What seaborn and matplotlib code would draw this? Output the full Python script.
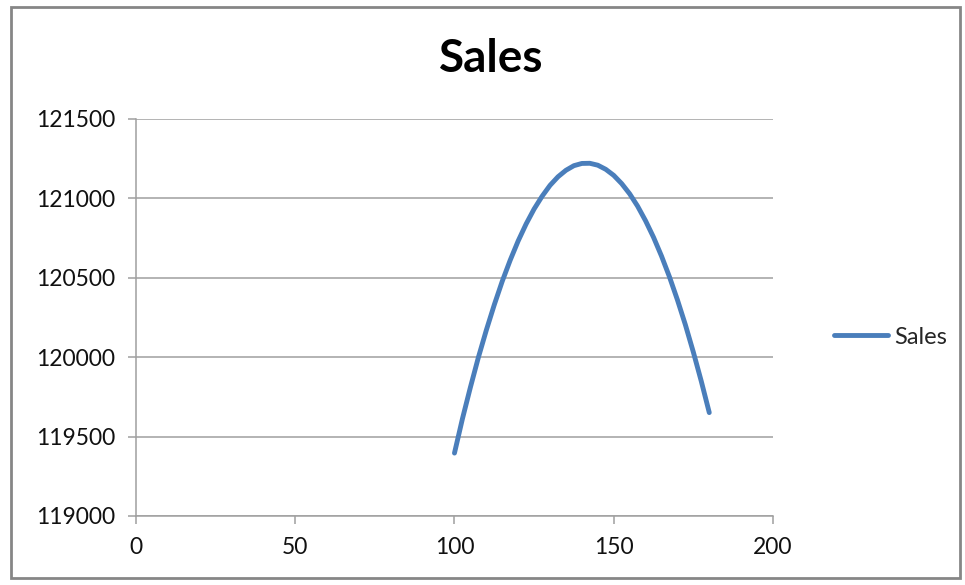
import matplotlib
matplotlib.use("Agg")
import matplotlib.pyplot as plt
import seaborn as sns
import pandas as pd
from matplotlib.patches import Rectangle

# Price points and the resulting sales
price = [100, 102.5, 105, 107.5, 110, 112.5, 115, 117.5, 120, 122.5, 125, 127.5,
         130, 132.5, 135, 137.5, 140, 142.5, 145, 147.5, 150, 152.5, 155, 157.5,
         160, 162.5, 165, 167.5, 170, 172.5, 175, 177.5, 180]
sales = [119396, 119612, 119810, 119998, 120170, 120330, 120478, 120611, 120732,
         120839, 120933, 121013, 121082, 121136, 121177, 121206, 121220, 121221,
         121209, 121183, 121145, 121093, 121029, 120951, 120859, 120755, 120637,
         120506, 120361, 120204, 120032, 119848, 119651]
x_ticks = [0, 50, 100, 150, 200]
y_ticks = [119000, 119500, 120000, 120500, 121000, 121500]
series_name = "Sales"

df = pd.DataFrame({"price": price, "Sales": sales, "series": series_name})

sns.set_theme(style="white")
plt.rcParams["font.family"] = ["Lato", "DejaVu Sans"]

fig = plt.figure(figsize=(9.65, 5.85), dpi=100)
ax = fig.add_axes([0.1409, 0.118, 0.801 - 0.1409, 0.7966 - 0.118])

line_col = "#4A7EBB"
sns.lineplot(data=df, x="price", y="Sales", hue="series", palette=[line_col],
             linewidth=3.5, ax=ax, legend=True)
ax.get_lines()[0].set_solid_capstyle("round")

ax.set_xlim(0, 200)
ax.set_ylim(119000, 121500)
ax.set_xticks(x_ticks)
ax.set_yticks(y_ticks)
ax.set_xticklabels([str(t) for t in x_ticks])
ax.set_yticklabels([str(t) for t in y_ticks])
ax.set_xlabel("")
ax.set_ylabel("")

grid_col = "#9F9F9F"
ax.yaxis.grid(True, color=grid_col, linewidth=1.1)
ax.xaxis.grid(False)
ax.set_axisbelow(True)
for side in ("top", "right"):
    ax.spines[side].set_visible(False)
for side in ("left", "bottom"):
    ax.spines[side].set_color(grid_col)
    ax.spines[side].set_linewidth(1.1)

ax.tick_params(axis="both", which="major", length=6, width=1.1, color=grid_col,
               labelsize=16.5, labelcolor="#111111")
ax.tick_params(axis="y", direction="out", pad=9)
ax.tick_params(axis="x", direction="out", pad=9)
ax.xaxis.set_ticks_position("bottom")
ax.yaxis.set_ticks_position("left")

fig.text(0.509, 1 - 59 / 585, "Sales", ha="center", va="center", fontsize=33,
         fontweight="bold", color="#000000")

leg = ax.legend(loc="center left", bbox_to_anchor=(834 / 965, 1 - 337 / 585),
                bbox_transform=fig.transFigure, frameon=False, fontsize=17,
                handlelength=2.3, handletextpad=0.25, borderpad=0,
                borderaxespad=0)
for line in leg.get_lines():
    line.set_linewidth(3.5)
    line.set_solid_capstyle("round")

# Chart area frame
fig.patches.append(Rectangle((11 / 965, 1 - 578 / 585), (960 - 11) / 965, (578 - 7) / 585,
                             transform=fig.transFigure, fill=False,
                             edgecolor="#868686", linewidth=2))

fig.savefig("out.png", dpi=100, facecolor="white")
